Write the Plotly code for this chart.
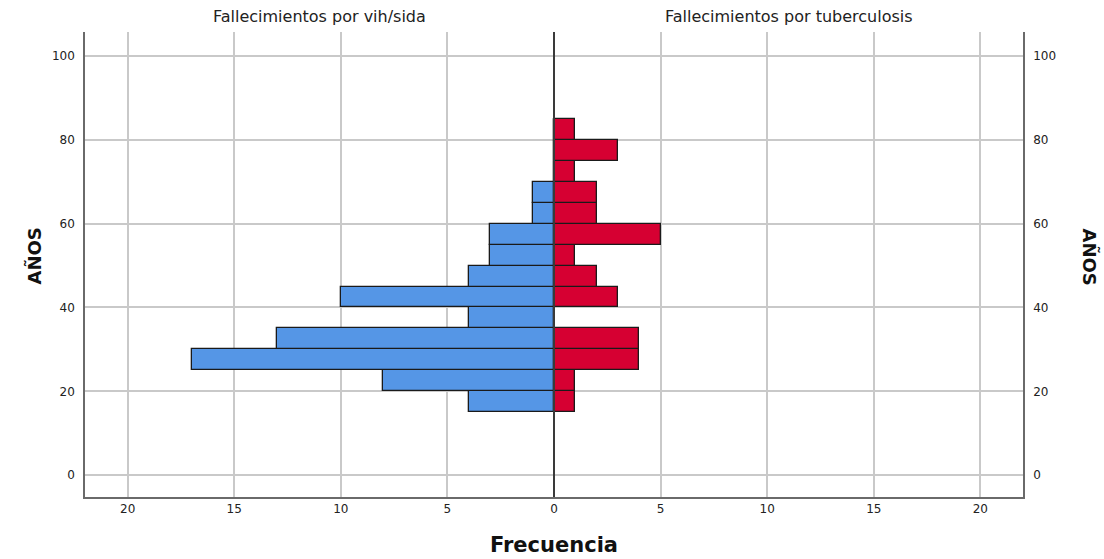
import plotly.graph_objects as go

# Age bins (start of 5-year bins)
bin_starts = [15, 20, 25, 30, 35, 40, 45, 50, 55, 60, 65, 70, 75, 80]
bin_width = 5
vih_sida = [4, 8, 17, 13, 4, 10, 4, 3, 3, 1, 1, 0, 0, 0]
tuberculosis = [1, 1, 4, 4, 0, 3, 2, 1, 5, 2, 2, 1, 3, 1]

y_ticks = [0, 20, 40, 60, 80, 100]
x_ticks_left = [0, 5, 10, 15, 20]
x_ticks_right = [5, 10, 15, 20]

centers = [b + bin_width / 2 for b in bin_starts]

FONT = "DejaVu Sans"
GRID = "#c9c9c9"
AXIS = "#6a6a6a"

fig = go.Figure()
fig.add_trace(go.Bar(
    x=vih_sida, y=centers, width=bin_width, orientation="h",
    marker=dict(color="#5596e6", line=dict(color="#1a1a1a", width=1.3)),
    xaxis="x", yaxis="y", showlegend=False,
))
fig.add_trace(go.Bar(
    x=tuberculosis, y=centers, width=bin_width, orientation="h",
    marker=dict(color="#d60032", line=dict(color="#1a1a1a", width=1.3)),
    xaxis="x2", yaxis="y2", showlegend=False,
))

tickfont = dict(family=FONT, size=12, color="#222222")

fig.update_layout(
    width=1104, height=559,
    margin=dict(l=85, r=81, t=32, b=62),
    paper_bgcolor="white", plot_bgcolor="white",
    bargap=0,
    xaxis=dict(domain=[0, 0.5], range=[22, 0], tickvals=x_ticks_left,
               showgrid=True, gridcolor=GRID, gridwidth=1.5, zeroline=False,
               showline=True, linecolor=AXIS, linewidth=1.5,
               ticks="", tickfont=tickfont, anchor="y"),
    xaxis2=dict(domain=[0.5, 1], range=[0, 22], tickvals=x_ticks_right,
                showgrid=True, gridcolor=GRID, gridwidth=1.5, zeroline=False,
                showline=True, linecolor=AXIS, linewidth=1.5,
                ticks="", tickfont=tickfont, anchor="y2"),
    yaxis=dict(range=[-5.2, 105.7], tickvals=y_ticks, anchor="x",
               showgrid=True, gridcolor=GRID, gridwidth=1.5, zeroline=False,
               showline=True, linecolor=AXIS, linewidth=1.5,
               ticks="", tickfont=tickfont, ticklabelstandoff=6),
    yaxis2=dict(range=[-5.2, 105.7], tickvals=y_ticks, anchor="x2", side="right",
                showgrid=True, gridcolor=GRID, gridwidth=1.5, zeroline=False,
                showline=True, linecolor=AXIS, linewidth=1.5,
                ticks="", tickfont=tickfont, ticklabelstandoff=6),
    shapes=[dict(type="line", xref="paper", x0=0.5, x1=0.5, yref="paper", y0=0, y1=1,
                 line=dict(color="#3a3a3a", width=2), layer="above")],
    annotations=[
        dict(text="Fallecimientos por vih/sida", xref="paper", yref="paper",
             x=0.25, xanchor="center", y=1, yshift=4, yanchor="bottom", showarrow=False,
             font=dict(family=FONT, size=16, color="#222222")),
        dict(text="Fallecimientos por tuberculosis", xref="paper", yref="paper",
             x=0.75, xanchor="center", y=1, yshift=4, yanchor="bottom", showarrow=False,
             font=dict(family=FONT, size=16, color="#222222")),
        dict(text="<b>Frecuencia</b>", xref="paper", yref="paper",
             x=0.5, xanchor="center", y=0, yshift=-48, yanchor="middle", showarrow=False,
             font=dict(family=FONT, size=21, color="#111111")),
        dict(text="<b>AÑOS</b>", xref="paper", yref="paper",
             x=0, xshift=-52, y=0.5, yshift=8, xanchor="center", showarrow=False,
             textangle=-90, font=dict(family=FONT, size=18, color="#111111")),
        dict(text="<b>AÑOS</b>", xref="paper", yref="paper",
             x=1, xshift=67, y=0.5, yshift=8, xanchor="center", showarrow=False,
             textangle=90, font=dict(family=FONT, size=18, color="#111111")),
    ],
)

fig.write_html("out.html", config={"displayModeBar": False},
               post_script="document.body.style.margin='0px';document.body.style.padding='0px';")
